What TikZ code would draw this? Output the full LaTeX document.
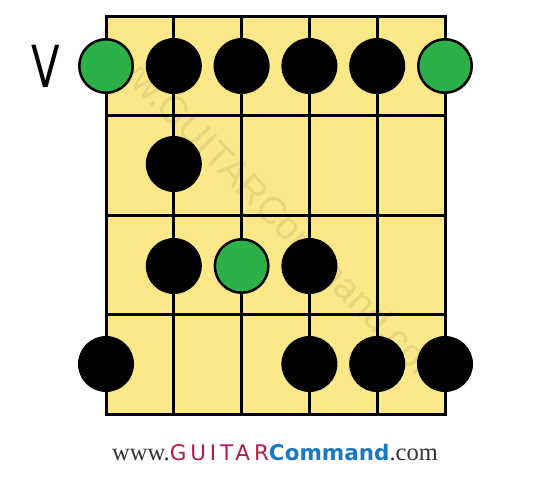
\documentclass[tikz,border=0pt]{standalone}
\usepackage{fontspec}
\usepackage{tikz}
\newfontfamily\armsans{Liberation Sans}
\newfontfamily\armserif{Liberation Serif}
\newfontfamily\armwide[LetterSpace=18.0]{DejaVu Sans}
\newfontfamily\armbold{DejaVu Sans Bold}
\newfontfamily\armhand{DejaVu Sans}
\definecolor{boardyellow}{RGB}{252,232,136}
\definecolor{rootgreen}{RGB}{43,176,74}
\definecolor{gcred}{RGB}{178,28,74}
\definecolor{gcblue}{RGB}{26,120,194}
\definecolor{gcgray}{RGB}{51,51,51}
\tikzset{
  blackdot/.style={circle, fill=black, minimum size=56pt, inner sep=0pt},
  greendot/.style={circle, draw=black, line width=2.5pt, fill=rootgreen, minimum size=53.5pt, inner sep=0pt},
  fretline/.style={line width=3pt}
}

\begin{document}
\begin{tikzpicture}[x=1pt, y=-1pt]
            \useasboundingbox (0,0) rectangle (550,477);
            \fill[boardyellow] (106,16) rectangle (445,414);
            \node[rotate=-45.5, text=black, opacity=0.08, font=\armsans\fontsize{38}{38}\selectfont] (mark) at (272,209) {www.GUITARCommand.com};
            \foreach \s in {1,...,4} \draw[fretline] (106+67.8*\s,16) -- (106+67.8*\s,414);
            \foreach \f in {1,...,3} \draw[fretline] (106,16+99.5*\f) -- (445,16+99.5*\f);
            \draw[fretline] (106,16) rectangle (445,414);
            \node[font=\armhand\fontsize{58}{58}\selectfont, xscale=0.72] (pos) at (46,66) {V};
            \node[greendot] (r1s1) at (106,66) {};
            \node[blackdot] (r1s2) at (173.8,66) {};
            \node[blackdot] (r1s3) at (241.6,66) {};
            \node[blackdot] (r1s4) at (309.4,66) {};
            \node[blackdot] (r1s5) at (377.2,66) {};
            \node[greendot] (r1s6) at (445,66) {};
            \node[blackdot] (r2s2) at (173.8,164) {};
            \node[blackdot] (r3s2) at (173.8,266) {};
            \node[greendot] (r3s3) at (241.6,266) {};
            \node[blackdot] (r3s4) at (309.4,266) {};
            \node[blackdot] (r4s1) at (106,364) {};
            \node[blackdot] (r4s4) at (309.4,364) {};
            \node[blackdot] (r4s5) at (377.2,364) {};
            \node[blackdot] (r4s6) at (445,364) {};
            \node[inner sep=0pt] (site) at (275,453) {\fontsize{24.5}{24.5}\selectfont\textcolor{gcgray}{\armserif www.}\textcolor{gcred}{\fontsize{21.5}{21.5}\selectfont\armwide GUITAR}\textcolor{gcblue}{\fontsize{21.5}{21.5}\selectfont\armbold Command}\textcolor{gcgray}{\armserif .com}};
        \end{tikzpicture}
\end{document}
